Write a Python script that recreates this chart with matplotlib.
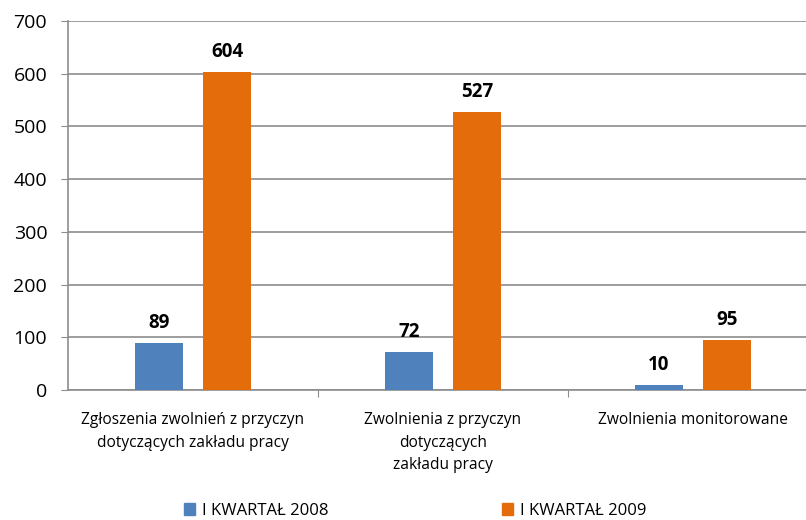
import numpy as np
import matplotlib
matplotlib.use('Agg')
import matplotlib.pyplot as plt

categories = ['Zgłoszenia zwolnień z przyczyn\ndotyczących zakładu pracy',
              'Zwolnienia z przyczyn\ndotyczących\nzakładu pracy',
              'Zwolnienia monitorowane']
series_names = ['I KWARTAŁ 2008', 'I KWARTAŁ 2009']
values_2008 = [89, 72, 10]
values_2009 = [604, 527, 95]
colors = ['#4F81BD', '#E46C0A']

plt.rcParams['font.family'] = ['Open Sans', 'DejaVu Sans']

fig = plt.figure(figsize=(8.06, 5.2), dpi=100)
ax = fig.add_axes([0.0844, 0.25, 0.9156, 0.7096])

x = np.arange(len(categories))
w = 0.192
off = 0.136
b1 = ax.bar(x - off, values_2008, w, color=colors[0], label=series_names[0], zorder=3)
b2 = ax.bar(x + off, values_2009, w, color=colors[1], label=series_names[1], zorder=3)

for bars, vals in ((b1, values_2008), (b2, values_2009)):
    for b, v in zip(bars, vals):
        ax.annotate(str(v), (b.get_x() + b.get_width() / 2, v), xytext=(0, 7),
                    textcoords='offset points', ha='center', va='bottom',
                    fontsize=13.5, fontweight='bold', color='#000000')

ax.set_ylim(0, 700)
ax.set_yticks(range(0, 701, 100))
ax.set_xlim(-0.5, -0.5 + 738 / 250)
ax.yaxis.grid(True, color='#8c8c8c', linewidth=1.2, zorder=0)
ax.set_axisbelow(True)

for s in ['top', 'right']:
    ax.spines[s].set_visible(False)
for s in ['left', 'bottom']:
    ax.spines[s].set_color('#8c8c8c')
    ax.spines[s].set_linewidth(1.2)

ax.tick_params(axis='y', length=5, color='#8c8c8c', labelsize=14, pad=10)
ax.set_xticks([0.5, 1.5], minor=False)
ax.set_xticklabels([])
ax.tick_params(axis='x', length=5, color='#8c8c8c')
for i, c in enumerate(categories):
    ax.text(i, -0.06, c, transform=ax.get_xaxis_transform(), ha='center', va='top',
            fontsize=11.2, linespacing=1.55)

handles = [plt.Rectangle((0, 0), 1, 1, color=c) for c in colors]
fig.legend(handles, series_names, loc='center', bbox_to_anchor=(0.515, 0.018), ncol=2,
           frameon=False, fontsize=12, columnspacing=10.4, handlelength=0.7,
           handleheight=0.7, handletextpad=0.4)

fig.savefig('out.png', dpi=100)
